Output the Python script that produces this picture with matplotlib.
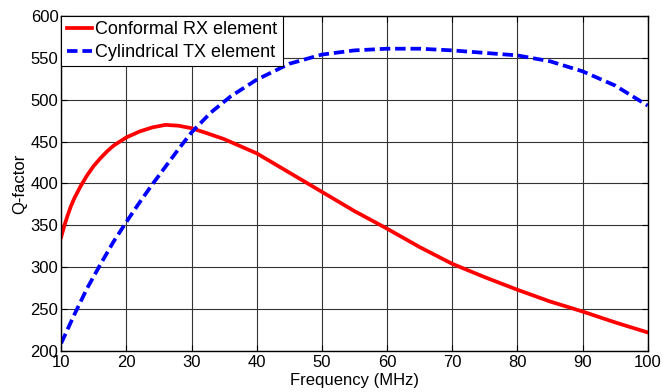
import numpy as np
import matplotlib.pyplot as plt

plt.rcParams['font.family'] = ['Liberation Sans', 'DejaVu Sans']

# values (MHz, Q-factor)
freq_rx = [10, 10.5, 11, 11.5, 12, 13, 14, 15, 16, 17, 18, 20, 22, 24, 26, 28,
           30, 32, 35, 40, 45, 50, 55, 60, 65, 70, 75, 80, 85, 90, 95, 100]
q_rx = [336, 350, 362, 373, 382, 397, 410, 421, 430, 438, 445, 455, 462, 467,
        470, 469, 466, 461, 453, 436, 413, 390, 367, 346, 324, 304, 288, 273,
        259, 247, 234, 222]

freq_tx = [10, 12, 14, 16, 18, 20, 22, 24, 26, 28, 30, 33, 36, 40, 45, 50, 55,
           60, 65, 70, 75, 80, 85, 90, 95, 100]
q_tx = [209, 243, 275, 303, 330, 354, 377, 399, 420, 441, 461, 485, 504, 524,
        543, 554, 559, 561, 561, 559, 556, 553, 546, 534, 517, 493]

fig = plt.figure(figsize=(6.65, 3.92), dpi=100)
ax = fig.add_axes([0.092, 0.105, 0.882, 0.854])

ax.plot(freq_rx, q_rx, color='red', lw=2.7, label='Conformal RX element')
ax.plot(freq_tx, q_tx, color='blue', lw=2.7, ls=(0, (2.8, 1.3)),
        label='Cylindrical TX element')

ax.set_xlim(10, 100)
ax.set_ylim(200, 600)
ax.set_xticks(np.arange(10, 101, 10))
ax.set_yticks(np.arange(200, 601, 50))
ax.grid(True, color='0.2', lw=0.8)
ax.tick_params(direction='in', top=True, right=True, labelsize=12, length=4)
ax.tick_params(axis='x', pad=3)
ax.tick_params(axis='y', pad=2)
for s in ax.spines.values():
    s.set_linewidth(1.0)

ax.set_xlabel('Frequency (MHz)', fontsize=12, labelpad=2)
ax.set_ylabel('Q-factor', fontsize=12, labelpad=2)

leg = ax.legend(loc='upper left', fontsize=13, handlelength=1.4,
                handletextpad=0.2, borderaxespad=0, borderpad=0.3,
                labelspacing=0.3, fancybox=False, framealpha=1)
leg.get_frame().set_edgecolor('black')
leg.get_frame().set_linewidth(0.8)

fig.savefig('out.png', dpi=100)
